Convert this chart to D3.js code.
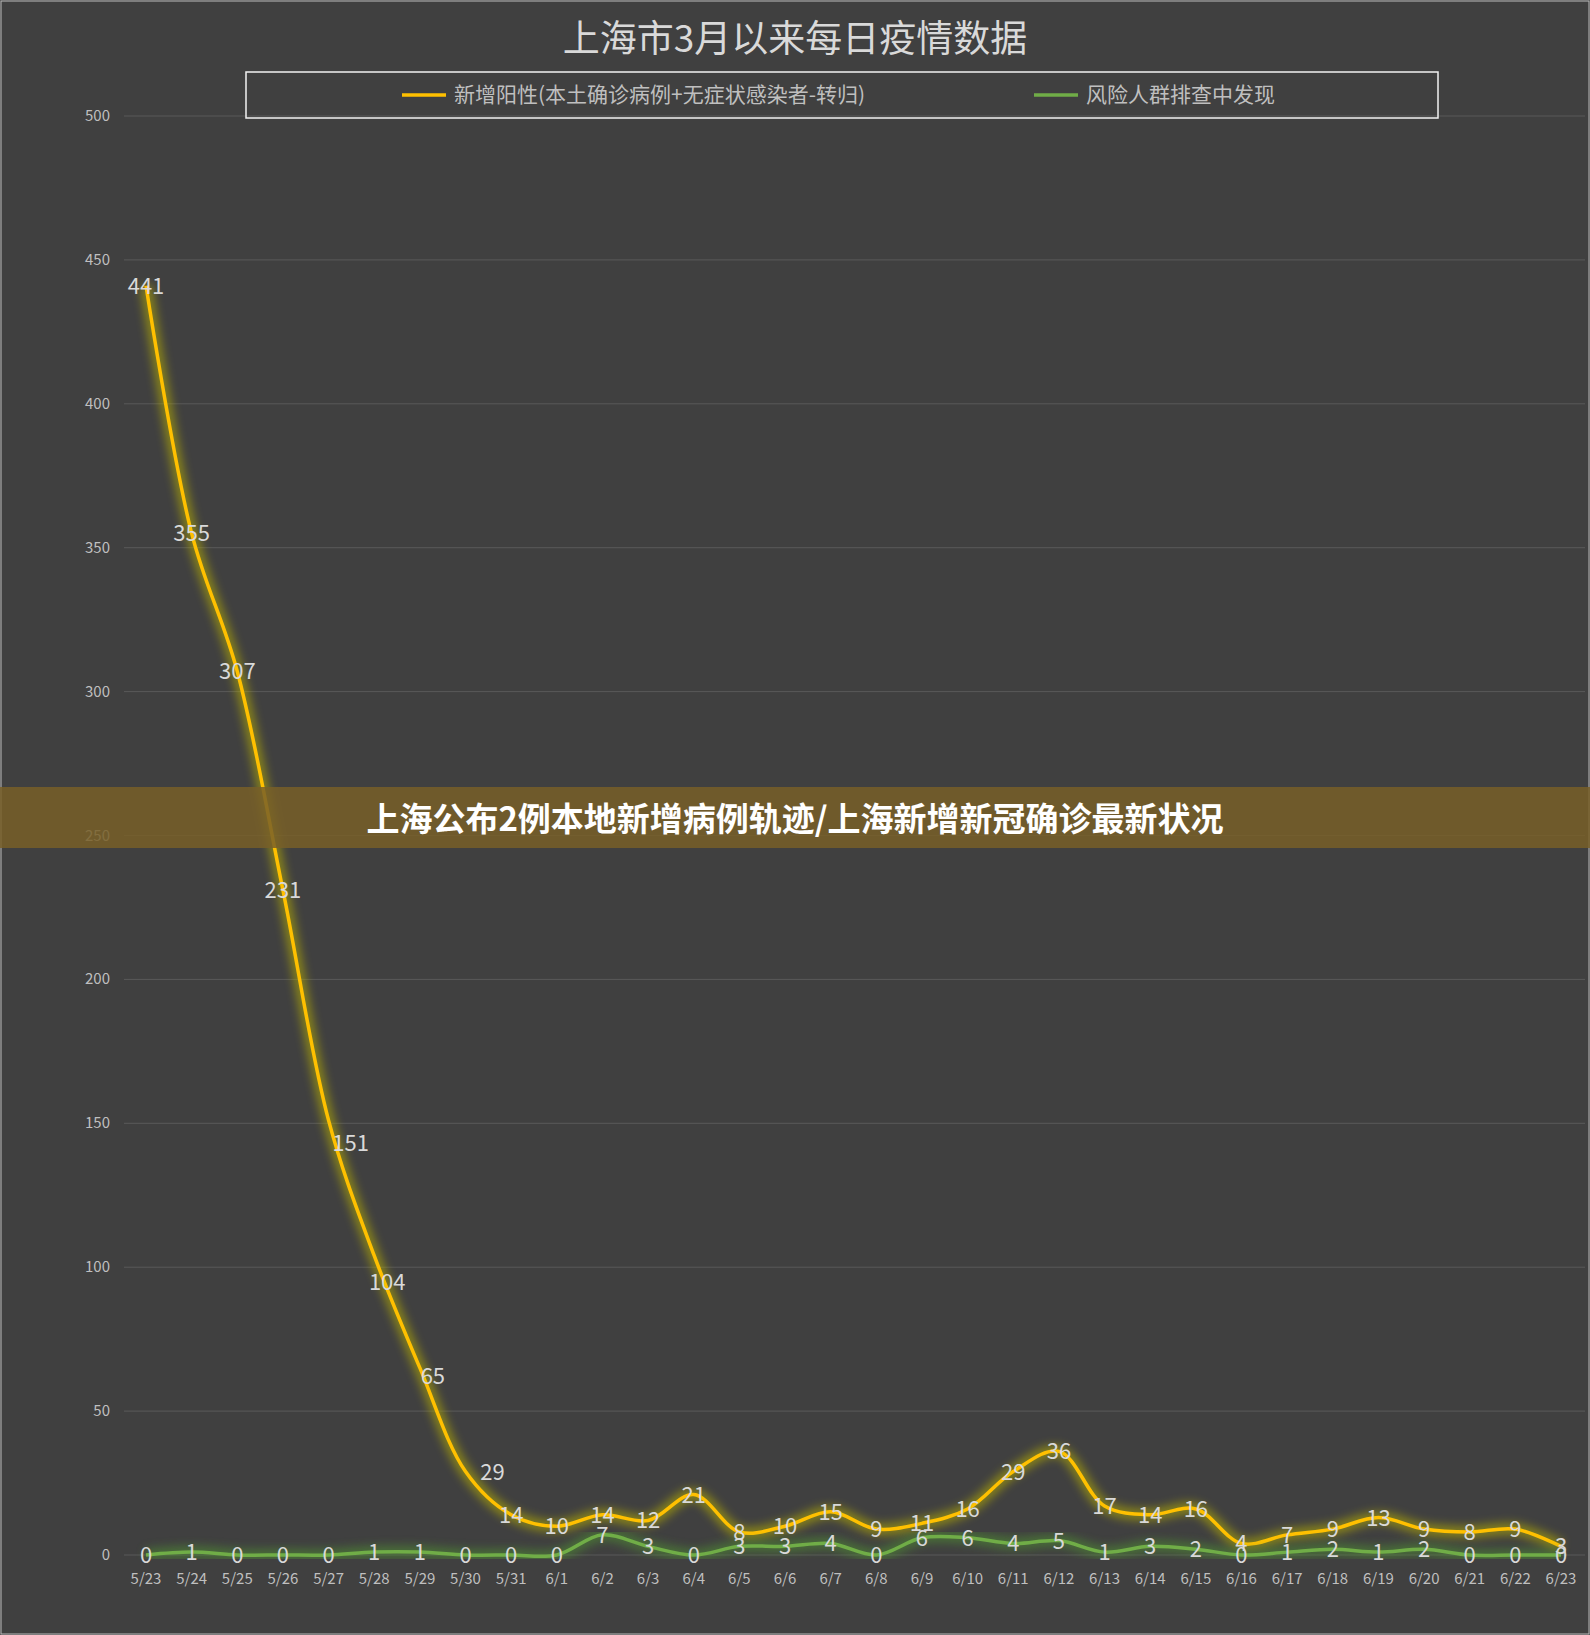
<!DOCTYPE html><html><head><meta charset="utf-8"><script src="https://cdn.jsdelivr.net/npm/d3@7"></script>
<style>body{margin:0;background:#404040}</style></head><body><svg id="c" width="1590" height="1635"></svg>
<script>
const dates=["5/23","5/24","5/25","5/26","5/27","5/28","5/29","5/30","5/31","6/1","6/2","6/3","6/4","6/5","6/6","6/7","6/8","6/9","6/10","6/11","6/12","6/13","6/14","6/15","6/16","6/17","6/18","6/19","6/20","6/21","6/22","6/23"];
const positives=[441,355,307,231,151,104,65,29,14,10,14,12,21,8,10,15,9,11,16,29,36,17,14,16,4,7,9,13,9,8,9,3];
const screened=[0,1,0,0,0,1,1,0,0,0,7,3,0,3,3,4,0,6,6,4,5,1,3,2,0,1,2,1,2,0,0,0];
const yTicks=[0,50,100,150,200,250,300,350,400,450,500];
const svg=d3.select("#c");
const F="'Noto Sans CJK SC','Noto Sans',sans-serif";
svg.append("rect").attr("x",1).attr("y",1).attr("width",1588).attr("height",1633).attr("fill","#404040").attr("stroke","#bbb");
const x=d3.scalePoint().domain(dates).range([146,1561]);
const y=d3.scaleLinear().domain([0,500]).range([1555,116]);
const defs=svg.append("defs");
const f=defs.append("filter").attr("id","glow").attr("x","-10%").attr("y","-10%").attr("width","120%").attr("height","120%");
f.append("feGaussianBlur").attr("stdDeviation",5);
svg.append("g").selectAll("line").data(yTicks).join("line").attr("x1",124).attr("x2",1585).attr("y1",d=>y(d)).attr("y2",d=>y(d)).attr("stroke","#595959").attr("stroke-width",1);
svg.append("g").selectAll("text").data(yTicks).join("text").attr("x",110).attr("y",d=>y(d)+5).attr("text-anchor","end").attr("fill","#bfbfbf").attr("font-size",15).attr("font-family",F).text(d=>d);
svg.append("g").selectAll("text").data(dates).join("text").attr("x",d=>x(d)).attr("y",1584).attr("text-anchor","middle").attr("fill","#bfbfbf").attr("font-size",15).attr("font-family",F).text(d=>d);
const line=d3.line().x((d,i)=>x(dates[i])).y(d=>y(d)).curve(d3.curveCatmullRom.alpha(0.5));
function series(vals,col,glow){
 svg.append("path").attr("d",line(vals)).attr("fill","none").attr("stroke",glow).attr("stroke-width",12).attr("opacity",0.6).attr("filter","url(#glow)");
 svg.append("path").attr("d",line(vals)).attr("fill","none").attr("stroke",col).attr("stroke-width",3.5);
}
series(positives,"#ffc000","#b8b000");
series(screened,"#70ad47","#4f8f30");
const off={4:[22,23],5:[13,26],6:[13,8],7:[27,0]};
function labels(vals,o){svg.append("g").selectAll("text").data(vals).join("text").attr("x",(d,i)=>x(dates[i])+((o&&o[i])?o[i][0]:0)).attr("y",(d,i)=>y(d)+8+((o&&o[i])?o[i][1]:0)).attr("text-anchor","middle").attr("fill","#d9d9d9").attr("font-size",22).attr("font-family",F).text(d=>d);}
labels(positives,off);labels(screened);
svg.append("text").attr("x",795).attr("y",52).attr("text-anchor","middle").attr("fill","#d9d9d9").attr("font-size",37).attr("font-family",F).text("上海市3月以来每日疫情数据");
svg.append("rect").attr("x",246).attr("y",72).attr("width",1192).attr("height",46).attr("fill","none").attr("stroke","#f2f2f2").attr("stroke-width",1.5);
const leg=[{t:"新增阳性(本土确诊病例+无症状感染者-转归)",c:"#ffc000",x:402},{t:"风险人群排查中发现",c:"#70ad47",x:1034}];
leg.forEach(l=>{svg.append("line").attr("x1",l.x).attr("x2",l.x+44).attr("y1",95).attr("y2",95).attr("stroke",l.c).attr("stroke-width",3.5);
svg.append("text").attr("x",l.x+52).attr("y",102).attr("fill","#bfbfbf").attr("font-size",21).attr("font-family",F).text(l.t);});
svg.append("rect").attr("x",0).attr("y",787).attr("width",1590).attr("height",61).attr("fill","rgb(120,95,40)").attr("opacity",0.85);
svg.append("text").attr("x",795).attr("y",831).attr("text-anchor","middle").attr("fill","#fff").attr("font-size",33).attr("font-weight","bold").attr("font-family",F).text("上海公布2例本地新增病例轨迹/上海新增新冠确诊最新状况");
</script></body></html>
